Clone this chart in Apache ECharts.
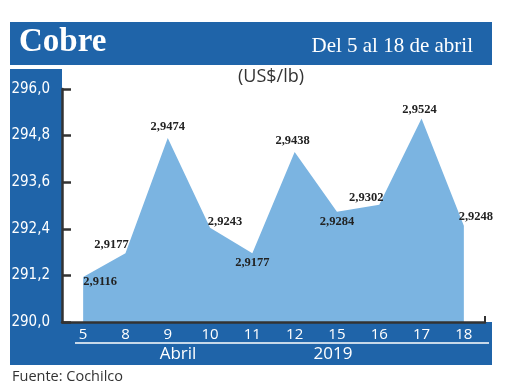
<!DOCTYPE html>
<html><head><meta charset="utf-8">
<script src="https://cdn.jsdelivr.net/npm/echarts@6/dist/echarts.min.js"></script>
<style>html,body{margin:0;padding:0;background:#fff}#c{width:520px;height:390px}</style>
</head><body><div id="c"></div>
<script>
const categories = ['5','8','9','10','11','12','15','16','17','18'];
const prices = [2.9116, 2.9177, 2.9474, 2.9243, 2.9177, 2.9438, 2.9284, 2.9302, 2.9524, 2.9248];
const yBase = 290;
const yTicks = ['290,0','291,2','292,4','293,6','294,8','296,0'];
const labelOffsets = [[17,5],[-14,-8],[0,-11],[15,-6],[0,10],[-2,-11],[0,10],[-13,-7],[-2,-9],[12,-9]];

const BLUE = '#1f64a9';
const AREA = '#7bb4e1';
const cond = "'DejaVu Sans Condensed',sans-serif";

const seriesData = prices.map((p, i) => ({
  value: +(p * 100 - yBase).toFixed(4),
  label: { offset: labelOffsets[i] }
}));

const chart = echarts.init(document.getElementById('c'), null, {renderer: 'canvas'});
chart.setOption({
  animation: false,
  backgroundColor: '#fff',
  grid: { left: 62, right: 35, top: 89, bottom: 68, containLabel: false },
  xAxis: {
    type: 'category', data: categories, boundaryGap: true,
    axisLine: { lineStyle: { color: '#333', width: 2.5 } },
    axisTick: { show: false },
    axisLabel: { color: '#fff', fontSize: 15, fontFamily: "'Open Sans',sans-serif", margin: 5 },
    z: 5
  },
  yAxis: {
    type: 'value', min: 0, max: 6, interval: 1.2,
    axisLine: { show: true, lineStyle: { color: '#333', width: 2.5 } },
    axisTick: { show: true, inside: true, length: 9, lineStyle: { color: '#333', width: 2.5 } },
    splitLine: { show: false },
    axisLabel: { color: '#fff', fontSize: 15, fontFamily: cond, margin: 12,
      formatter: v => yTicks[Math.round(v / 1.2)] },
    z: 5
  },
  series: [{
    type: 'line', data: seriesData,
    symbol: 'circle', symbolSize: 1, itemStyle: { color: 'rgba(0,0,0,0)' },
    lineStyle: { width: 0 },
    areaStyle: { color: AREA, opacity: 1 },
    label: { show: true, position: 'inside', color: '#222', fontSize: 12.5, fontWeight: 'bold',
      fontFamily: "'Liberation Serif',serif", formatter: p => prices[p.dataIndex].toFixed(4).replace('.', ',') },
    z: 3
  }],
  graphic: [
    { type: 'rect', z: -10, shape: { x: 10, y: 22, width: 482, height: 43 }, style: { fill: BLUE } },
    { type: 'rect', z: -10, shape: { x: 10, y: 69, width: 52, height: 296 }, style: { fill: BLUE } },
    { type: 'rect', z: -10, shape: { x: 10, y: 322, width: 482, height: 43 }, style: { fill: BLUE } },
    { type: 'line', z: 10, shape: { x1: 75, y1: 343, x2: 489, y2: 343 }, style: { stroke: '#fff', lineWidth: 1.5 } },
    { type: 'line', z: 10, shape: { x1: 485, y1: 322, x2: 485, y2: 316 }, style: { stroke: '#333', lineWidth: 2 } },
    { type: 'text', z: 100, x: 19, y: 42, style: { text: 'Cobre', fill: '#fff', font: "bold 33px 'Liberation Serif',serif", verticalAlign: 'middle' } },
    { type: 'text', z: 100, x: 473, y: 46, style: { text: 'Del 5 al 18 de abril', fill: '#fff', font: "21px 'Liberation Serif',serif", align: 'right', verticalAlign: 'middle' } },
    { type: 'text', z: 100, x: 271, y: 77, style: { text: '(US$/lb)', fill: '#333', font: "18px 'Open Sans',sans-serif", align: 'center', verticalAlign: 'middle' } },
    { type: 'text', z: 100, x: 178, y: 354, style: { text: 'Abril', fill: '#fff', font: "17px 'Open Sans',sans-serif", align: 'center', verticalAlign: 'middle' } },
    { type: 'text', z: 100, x: 333, y: 354, style: { text: '2019', fill: '#fff', font: "17px 'Open Sans',sans-serif", align: 'center', verticalAlign: 'middle' } },
    { type: 'text', z: 100, x: 12, y: 377, style: { text: 'Fuente: Cochilco', fill: '#333', font: "14.5px 'Open Sans',sans-serif", verticalAlign: 'middle' } }
  ]
});
</script></body></html>
